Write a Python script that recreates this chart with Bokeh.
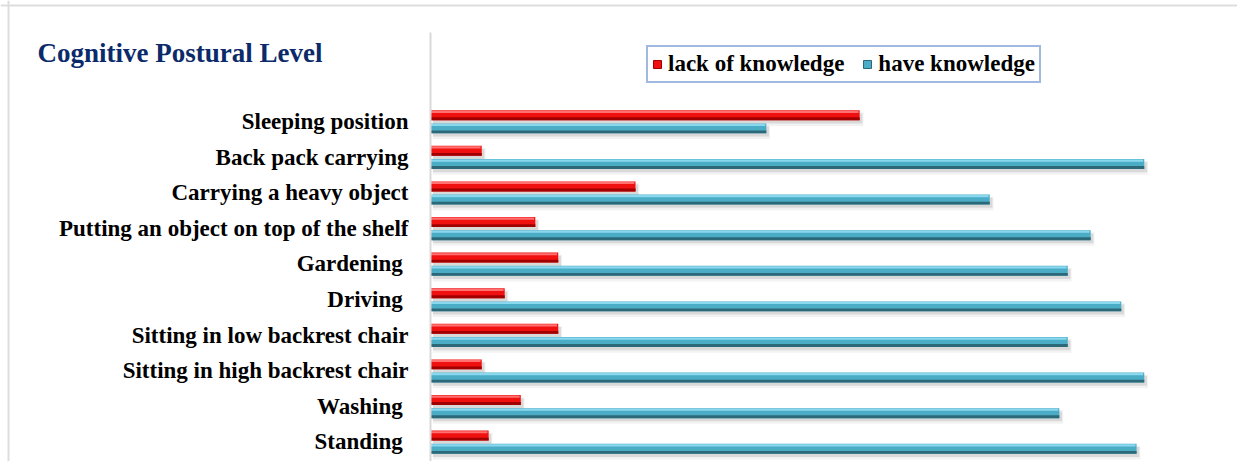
from bokeh.plotting import figure
from bokeh.models import (Range1d, FixedTicker, Legend, LegendItem, Label, Span,
                          ColumnDataSource, LinearAxis)
from bokeh.transform import dodge
from bokeh.embed import file_html
from bokeh.resources import INLINE

# ---- data ----
categories = ["Sleeping position", "Back pack carrying", "Carrying a heavy object",
              "Putting an object on top of the shelf", "Gardening ", "Driving ",
              "Sitting in low backrest chair", "Sitting in high backrest chair",
              "Washing ", "Standing "]
lack_knowledge = [56.1, 6.7, 26.8, 13.7, 16.7, 9.7, 16.7, 6.7, 11.8, 7.6]
have_knowledge = [43.9, 93.3, 73.1, 86.3, 83.3, 90.3, 83.3, 93.3, 82.2, 92.3]
series_names = ["lack of knowledge", "have knowledge"]
title_text = "Cognitive Postural Level"

FONT = "Liberation Serif"
n = len(categories)
ypos = [n - 1 - i for i in range(n)]
src = ColumnDataSource(dict(y=ypos, lack=lack_knowledge, have=have_knowledge))

p = figure(width=1237, height=461, output_backend="svg", toolbar_location=None,
           x_range=Range1d(-56.209, 105.49), y_range=Range1d(-0.548, 12.402),
           min_border=0, y_axis_location=None)
p.outline_line_color = None
p.xgrid.visible = False
p.ygrid.visible = False
p.xaxis.visible = False
p.background_fill_color = "white"
p.border_fill_color = "white"

# light chart-area border (top and left)
p.add_layout(Span(location=456, location_units="screen", dimension="width",
                  line_color="#DDDDDD", line_width=2))
p.add_layout(Span(location=8, location_units="screen", dimension="height",
                  line_color="#DDDDDD", line_width=2))

yax = LinearAxis(fixed_location=0, bounds=(-0.6, 11.5))
p.add_layout(yax, "left")
yax.ticker = FixedTicker(ticks=ypos)
yax.major_label_overrides = {y: c for y, c in zip(ypos, categories)}
yax.major_tick_line_color = None
yax.minor_tick_line_color = None
yax.axis_line_color = "#D9D9D9"
yax.axis_line_width = 2
yax.major_label_standoff = 16
yax.major_label_text_font = FONT
yax.major_label_text_font_style = "bold"
yax.major_label_text_font_size = "23px"
yax.major_label_text_color = "#000000"

styles = [
    ("lack", 0.18, "#F01010", "#FF7070", "#A00000"),
    ("have", -0.19, "#4BACC6", "#8AD8EE", "#2C6878"),
]
for field, off, main, light, dark in styles:
    # soft shadow
    p.hbar(y=dodge("y", off - 0.11, range=p.y_range), left=0.3, right=dodge(field, 0.5),
           height=0.38, source=src, fill_color="#000000", fill_alpha=0.05, line_color=None)
    p.hbar(y=dodge("y", off - 0.09, range=p.y_range), left=0.3, right=dodge(field, 0.35),
           height=0.28, source=src, fill_color="#000000", fill_alpha=0.10, line_color=None)
    # main bar
    p.hbar(y=dodge("y", off, range=p.y_range), left=0, right=field, height=0.28,
           source=src, fill_color=main, line_color=None)
    # top highlight
    p.hbar(y=dodge("y", off + 0.095, range=p.y_range), left=0, right=dodge(field, -0.15),
           height=0.06, source=src, fill_color=light, line_color=None)
    # bottom dark edge
    p.hbar(y=dodge("y", off - 0.1, range=p.y_range), left=0, right=field,
           height=0.08, source=src, fill_color=dark, line_color=None)

# legend proxies (placed outside the visible range)
r_red = p.hbar(y=[-50], right=[-50], height=1, fill_color="#F01010", line_color="#A00000")
r_blue = p.hbar(y=[-50], right=[-50], height=1, fill_color="#4BACC6", line_color="#2C6878")
legend = Legend(items=[LegendItem(label=series_names[0], renderers=[r_red]),
                       LegendItem(label=series_names[1], renderers=[r_blue])],
                orientation="horizontal", location=(646, 378),
                border_line_color="#4472C4", border_line_width=2,
                background_fill_color="white", background_fill_alpha=1,
                label_text_font=FONT, label_text_font_style="bold",
                label_text_font_size="23px", label_text_color="#000000",
                glyph_width=10, glyph_height=10, label_standoff=6,
                spacing=18, padding=4, margin=0)
p.add_layout(legend, "center")

title = Label(x=37, y=409, x_units="screen", y_units="screen", text=title_text,
              text_font=FONT, text_font_style="bold", text_font_size="27px",
              text_color="#0B2A6A", text_baseline="alphabetic")
p.add_layout(title)

open("out.html", "w").write(file_html(p, INLINE))
